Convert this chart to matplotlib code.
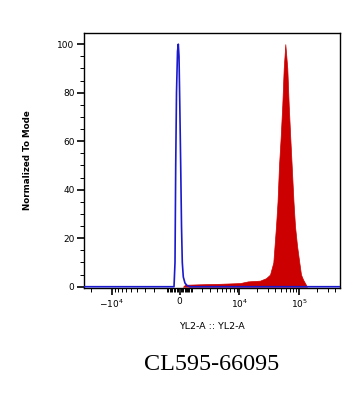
# Import Libraries
import numpy as np
import matplotlib.pyplot as plt
from matplotlib.ticker import FixedLocator, FixedFormatter

# Histogram data (channel value, % of mode)
blue_x = [-25000, -381, -311, -262, -207, -138, -83, -34, 23, 94, 157, 219, 299, 432, 594, 844, 480000]
blue_y = [0, 0, 10, 50, 80, 97, 100, 95, 75, 50, 25, 10, 4, 1.5, 0.5, 0, 0]

red_x = [275, 432, 1771, 4600, 10290, 14020, 22270, 28060, 32740, 37170, 41210, 43680, 46250,
         49380, 52450, 55370, 57100, 58860, 61190, 63560, 67090, 71050, 75190, 80600, 85390,
         92230, 100700, 107500, 116100, 135300]
red_y = [0, 0.8, 1, 1.2, 1.5, 2.2, 2.5, 3.5, 5, 10, 25, 35, 50,
         62, 75, 90, 95, 100, 95, 90, 75, 62, 50, 35, 25,
         17, 10, 5, 3, 0]

major_ticks = [-1e4, 0, 1e4, 1e5]
major_labels = ['$-10^4$', '0', '$10^4$', '$10^5$']

# Biexponential-like axis (negative side a bit wider, as in FlowJo)
W = 2041.0
K = 1.134

def fwd(x):
    x = np.asarray(x, dtype=float)
    y = np.arcsinh(x / W)
    return np.where(x < 0, K * y, y)

def inv(y):
    y = np.asarray(y, dtype=float)
    return np.where(y < 0, W * np.sinh(y / K), W * np.sinh(y))

minor_ticks = ([-2e4] + [-k * 1e3 for k in range(2, 10)] + [-k * 100 for k in range(1, 10)]
               + [k * 100 for k in range(1, 10)] + [k * 1e3 for k in range(1, 10)]
               + [k * 1e4 for k in range(2, 10)] + [k * 1e5 for k in range(2, 5)])

fig = plt.figure(figsize=(3.61, 4.04), dpi=100)
ax = fig.add_axes([0.2335, 0.2879, 0.7083, 0.631])
ax.set_xscale('function', functions=(fwd, inv))

ax.fill_between(red_x, red_y, color='#CC0000', lw=0.5, zorder=2)
ax.plot(blue_x, blue_y, color='#1A1ACC', lw=1.2, zorder=3)

ax.set_xlim(-25450, 479000)
ax.set_ylim(-0.4, 104.7)

ax.xaxis.set_major_locator(FixedLocator(major_ticks))
ax.xaxis.set_major_formatter(FixedFormatter(major_labels))
ax.xaxis.set_minor_locator(FixedLocator(minor_ticks))
ax.set_yticks([0, 20, 40, 60, 80, 100])
ax.yaxis.set_minor_locator(FixedLocator(list(range(5, 105, 5))))

ax.tick_params(which='major', length=5, width=1.2, labelsize=6.5, pad=2)
ax.tick_params(which='minor', length=3, width=0.7)
for s in ax.spines.values():
    s.set_linewidth(1.0)

ax.set_ylabel('Normalized To Mode', fontsize=6.3, fontweight='bold', labelpad=18)
ax.set_xlabel('YL2-A :: YL2-A', fontsize=6.8, labelpad=9)

fig.text(0.587, 0.097, 'CL595-66095', fontsize=17.4, family='Liberation Serif',
         ha='center', va='center')

plt.savefig('out.png', dpi=100)
